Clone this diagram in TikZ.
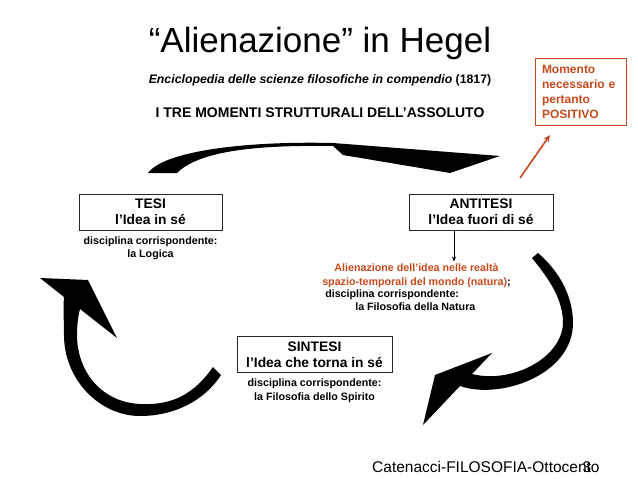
\documentclass[tikz,border=0pt]{standalone}
\usepackage{fontspec}
\setmainfont{Liberation Sans}
\usetikzlibrary{positioning,arrows.meta}
\definecolor{ruggine}{RGB}{196,74,28}

\begin{document}
\begin{tikzpicture}[x=1pt, y=-1pt,
  box/.style={draw=black!85, line width=0.9pt, minimum height=36pt, align=center, font=\fontsize{13.8}{16}\selectfont\bfseries, inner sep=2pt},
  nota/.style={align=center, font=\fontsize{10.7}{13.5}\selectfont\bfseries, inner sep=0pt},
  arr/.style={-{Stealth[length=5pt,width=4pt]}, line width=0.6pt}
]
\useasboundingbox (0,0) rectangle (638,479);
% titolo
\node[font=\fontsize{35}{40}\selectfont] (titolo) at (320,43) {“Alienazione” in Hegel};
\node[font=\fontsize{12.3}{14}\selectfont\bfseries] (opera) at (320,80) {\textit{Enciclopedia delle scienze filosofiche in compendio} (1817)};
\node[font=\fontsize{14}{16}\selectfont\bfseries] (momenti) at (320,113) {I TRE MOMENTI STRUTTURALI DELL’ASSOLUTO};
\node[draw=ruggine, line width=0.8pt, text=ruggine, font=\fontsize{12}{15}\selectfont\bfseries, align=left, text width=77pt, inner xsep=7pt, minimum height=67pt] (positivo) at (580.5,91.5) {Momento\\necessario e\\pertanto\\POSITIVO};
% i tre momenti
\node[box, minimum width=143pt] (tesi) at (150.5,212) {TESI\\l’Idea in sé};
\node[box, minimum width=144pt] (antitesi) at (481,212) {ANTITESI\\l’Idea fuori di sé};
\node[box, minimum width=155pt] (sintesi) at (314.5,354.5) {SINTESI\\l’Idea che torna in sé};
\node[nota, below=6pt of tesi] (logica) {disciplina corrispondente:\\la Logica};
\node[nota, below=6pt of sintesi] (spirito) {disciplina corrispondente:\\la Filosofia dello Spirito};
\node[nota, text=ruggine] (alien) at (416.5,275.5) {Alienazione dell’idea nelle realtà\\spazio-temporali del mondo (natura)\textcolor{black}{;}};
\node[nota, align=left, below right=2pt and 3pt of alien.south west] (natura) {disciplina corrispondente:\\\hspace{30pt}la Filosofia della Natura};
\draw[arr] ([xshift=-27pt]antitesi.south) -- ([xshift=-27pt,yshift=2pt]antitesi.south |- alien.north);
% frecce del ciclo
\fill (148,173) .. controls (165,150) and (250,141) .. (333,143) -- (500,156) -- (450,173) -- (343,155) -- (333,146) .. controls (260,145) and (200,150) .. (177,173) -- cycle;
\fill (532,258) .. controls (550,280) and (563,300) .. (563,323) .. controls (562,358) and (512,384) .. (472,374) -- (492,353) -- (435,375) -- (423,425) -- (460,386) .. controls (500,400) and (573,375) .. (573,323) .. controls (573,295) and (558,270) .. (538,253) -- cycle;
\fill (213,367) .. controls (190,400) and (165,405) .. (140,404) .. controls (100,402) and (77,370) .. (77,335) .. controls (77,325) and (78,317) .. (80,309) -- (117,338) -- (88,280) -- (40,278) -- (64,297) .. controls (63,310) and (64,320) .. (64,335) .. controls (64,380) and (100,416) .. (140,416) .. controls (175,416) and (205,400) .. (221,375) -- cycle;
\coordinate (da) at (520,178);
\coordinate (a) at (550,135);
\draw[ruggine, line width=1.6pt, -{Stealth[length=7pt,width=6pt]}] (da) -- (a);
% piede
\node[font=\fontsize{15.5}{18}\selectfont, anchor=base west, inner sep=0pt] (piede) at (372,472) {Catenacci-FILOSOFIA-Ottocento};
\node[font=\fontsize{15.5}{18}\selectfont, anchor=base, inner sep=0pt] (pagina) at (587,472) {3};
\end{tikzpicture}
\end{document}
